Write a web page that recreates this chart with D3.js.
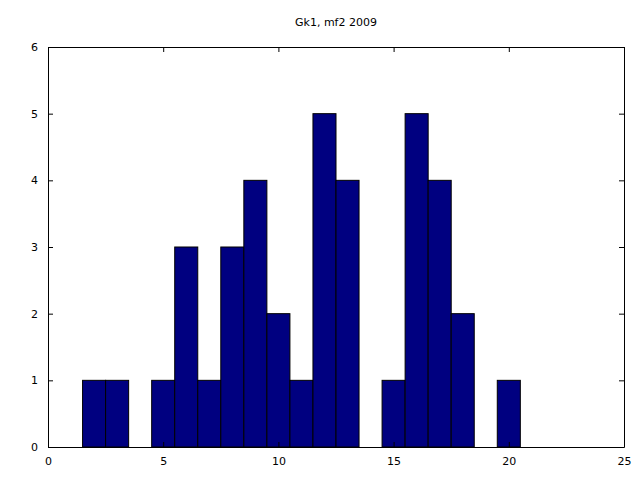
<!DOCTYPE html>
<html><head><meta charset="utf-8">
<script src="https://cdn.jsdelivr.net/npm/d3@7"></script>
<style>body{margin:0;background:#fff}</style>
</head><body>
<script>
const binCenters = [2,3,5,6,7,8,9,10,11,12,13,15,16,17,18,20];
const counts     = [1,1,1,3,1,3,4,2,1,5,4,1,5,4,2,1];
const xTicks = [0,5,10,15,20,25];
const yTicks = [0,1,2,3,4,5,6];
const title = "Gk1, mf2 2009";

const W=640,H=480, L=48,R=624,T=47,B=447;
const svg=d3.select("body").append("svg").attr("width",W).attr("height",H);
const x=d3.scaleLinear().domain([0,25]).range([L,R]);
const y=d3.scaleLinear().domain([0,6]).range([B,T]);
const font="DejaVu Sans, sans-serif";

svg.append("g").selectAll("rect").data(binCenters).join("rect")
  .attr("x",(d)=>x(d-0.5)).attr("width",(d)=>x(d+0.5)-x(d-0.5))
  .attr("y",(d,i)=>y(counts[i])).attr("height",(d,i)=>y(0)-y(counts[i]))
  .attr("fill","#000080").attr("stroke","#000").attr("stroke-width",1);

const fmt=d3.format("d");
const ax=[
 svg.append("g").attr("transform",`translate(0,${B})`).call(d3.axisBottom(x).tickValues(xTicks).tickSizeInner(-5).tickSizeOuter(0).tickPadding(10).tickFormat(fmt)),
 svg.append("g").attr("transform",`translate(0,${T})`).call(d3.axisTop(x).tickValues(xTicks).tickSizeInner(-5).tickSizeOuter(0).tickFormat("")),
 svg.append("g").attr("transform",`translate(${L},0)`).call(d3.axisLeft(y).tickValues(yTicks).tickSizeInner(-5).tickSizeOuter(0).tickPadding(10).tickFormat(fmt)),
 svg.append("g").attr("transform",`translate(${R},0)`).call(d3.axisRight(y).tickValues(yTicks).tickSizeInner(-5).tickSizeOuter(0).tickFormat(""))
];
ax.forEach(g=>{g.selectAll("text").attr("font-family",font).attr("font-size",11).attr("fill","#000");
  g.select(".domain").attr("stroke","#000"); g.selectAll(".tick line").attr("stroke","#000");});

svg.append("text").attr("x",(L+R)/2).attr("y",26).attr("text-anchor","middle")
  .attr("font-family",font).attr("font-size",11).attr("fill","#000").text(title);
</script>
</body></html>
